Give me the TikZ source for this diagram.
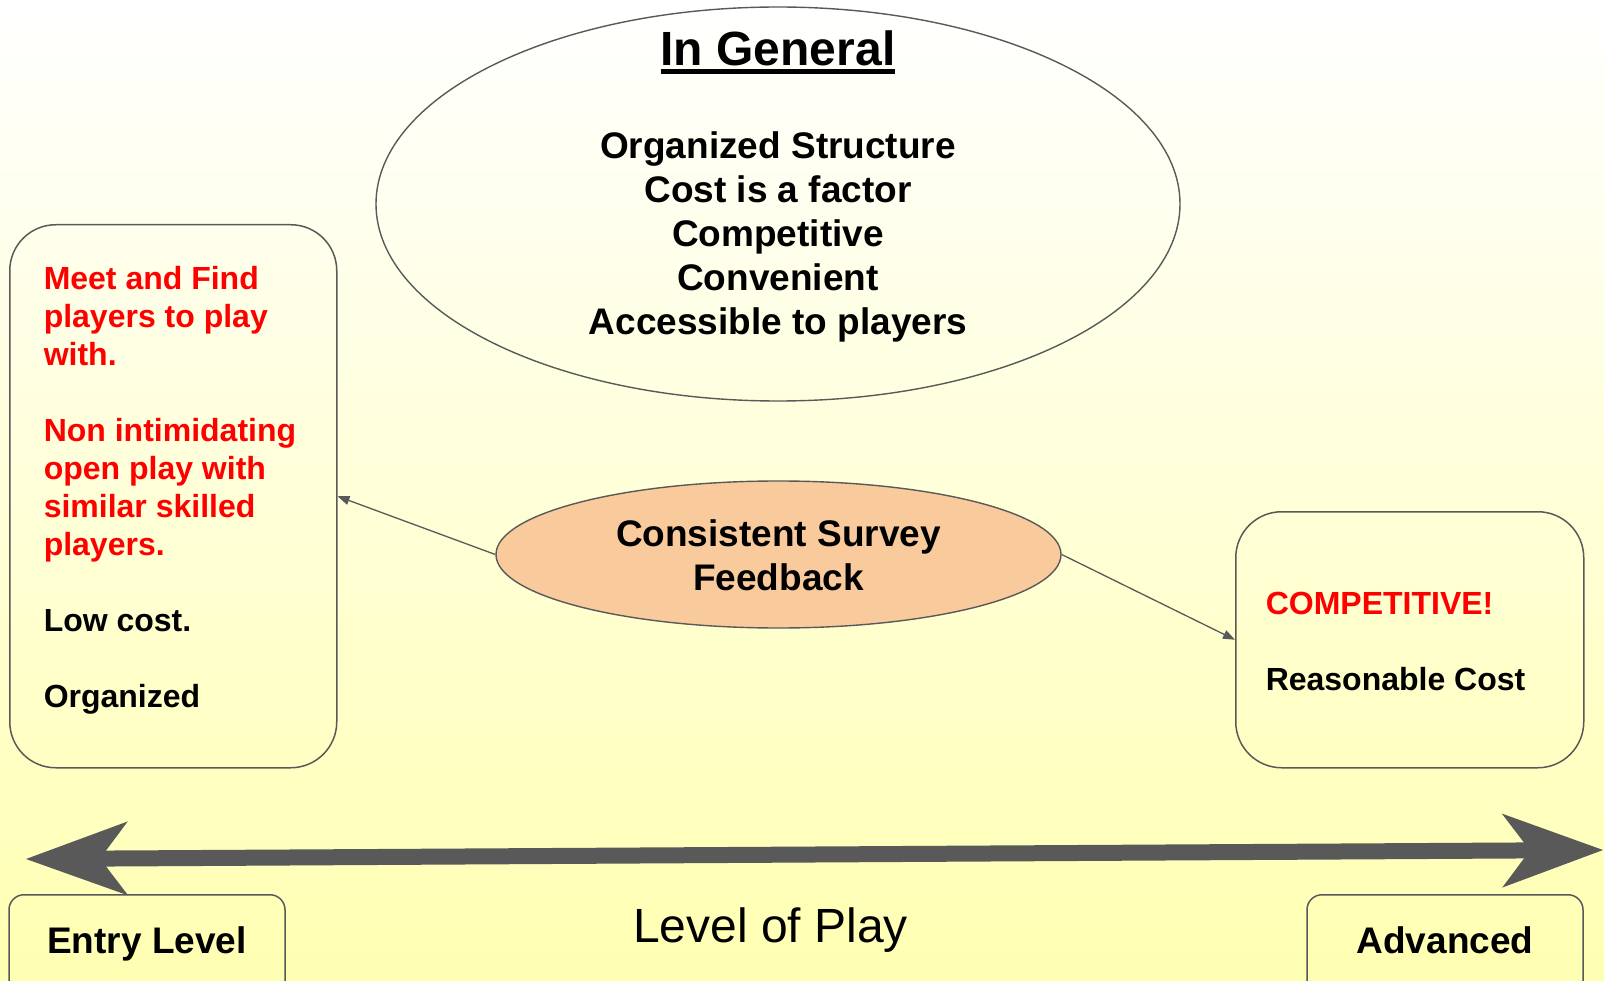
\documentclass[tikz,border=0pt]{standalone}
\usepackage{fontspec}
\setmainfont{Liberation Sans}
\usetikzlibrary{arrows.meta,shapes.geometric}
\definecolor{linegrey}{HTML}{595959}
\definecolor{bgyellow}{RGB}{255,255,178}
\definecolor{peach}{HTML}{F9CB9C}
\definecolor{txtred}{HTML}{FF0000}
\newsavebox\ulsave
\newcommand\ulword[1]{\sbox\ulsave{#1}\rlap{\rule[-7.7pt]{\wd\ulsave}{4.3pt}}\usebox\ulsave}
\begin{document}
\begin{tikzpicture}[x=1pt,y=-1pt,
  roundbox/.style={draw=linegrey, line width=1.5pt, inner ysep=0pt},
  oval/.style={ellipse, draw=linegrey, line width=1.4pt, inner sep=0pt},
  link/.style={draw=linegrey, line width=1.3pt, -{Triangle[length=12pt,width=9pt]}},
  axis/.style={line width=16pt, draw=linegrey,
    {Stealth[length=102pt,width=74pt,inset=28pt,line width=0pt]}-{Stealth[length=101pt,width=74pt,inset=28pt,line width=0pt]}}
]
\useasboundingbox (0,0) rectangle (1604,981);
\shade[top color=white, bottom color=bgyellow] (0,0) rectangle (1604,981);

% big ellipse
\node[oval, minimum width=804pt, minimum height=394pt, text height=0pt, text depth=276pt,
      font=\fontsize{37}{44}\selectfont\bfseries] (general) at (778,204)
  {\begin{tabular}[t]{@{}c@{}}{\fontsize{48}{56}\selectfont\ulword{In General}}\\[49pt]
    Organized Structure\\ Cost is a factor\\ Competitive\\ Convenient\\ Accessible to players\end{tabular}};

% feedback ellipse
\node[oval, fill=peach, minimum width=565pt, minimum height=147pt, text height=30pt, text depth=47pt,
      font=\fontsize{37}{44}\selectfont\bfseries] (feedback) at (778.5,554.5)
  {\begin{tabular}[t]{@{}c@{}}Consistent Survey\\ Feedback\end{tabular}};

% left box
\node[roundbox, rounded corners=46pt, anchor=north west, inner xsep=34pt,
      text height=64.5pt, text depth=478.5pt, font=\fontsize{32}{38}\selectfont\bfseries] (leftbox) at (9,224)
  {\makebox[259pt][l]{\begin{tabular}[t]{@{}l@{}}
   \color{txtred}Meet and Find\\ \color{txtred}players to play\\ \color{txtred}with.\\ \\
   \color{txtred}Non intimidating\\ \color{txtred}open play with\\ \color{txtred}similar skilled\\ \color{txtred}players.\\ \\
   Low cost.\\ \\ Organized\end{tabular}}};

% right box
\node[roundbox, rounded corners=46pt, anchor=north west, inner xsep=30pt,
      text height=103pt, text depth=153pt, font=\fontsize{32}{38}\selectfont\bfseries] (rightbox) at (1235,511)
  {\makebox[288pt][l]{\begin{tabular}[t]{@{}l@{}}
   \color{txtred}COMPETITIVE!\\ \\ Reasonable Cost\end{tabular}}};

% bottom boxes
\node[roundbox, rounded corners=15pt, anchor=north, minimum width=276pt, text height=59pt, text depth=51pt,
      font=\fontsize{37}{44}\selectfont\bfseries] (entry) at (147,894) {Entry Level};
\node[roundbox, rounded corners=15pt, anchor=north, minimum width=276pt, text height=59pt, text depth=51pt,
      font=\fontsize{37}{44}\selectfont\bfseries] (advanced) at (1445,894) {Advanced};

\node[anchor=base, inner sep=0pt, font=\fontsize{48}{56}\selectfont] (levelplay) at (770.5,942) {Level of Play};

% axis arrow
\coordinate (axisL) at (26,859);
\coordinate (axisR) at (1603,850);
\draw[axis] (axisL) -- (axisR);

% connectors
\draw[link] (feedback.west) -- (leftbox.east);
\draw[link] (feedback.east) -- (rightbox.west);
\end{tikzpicture}
\end{document}
